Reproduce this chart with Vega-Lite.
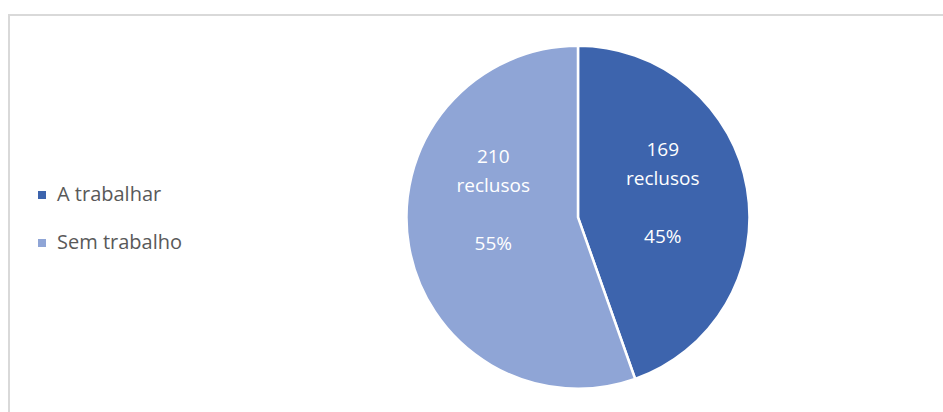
{
  "$schema": "https://vega.github.io/schema/vega-lite/v6.json",
  "usermeta": {"embedOptions": {"actions": false}},
  "autosize": {"type": "none"},
  "padding": {"left": 9, "top": 15, "right": 0, "bottom": 0},
  "width": 934,
  "height": 397,
  "background": "#ffffff",
  "config": {
    "view": {"stroke": null},
    "font": "Open Sans"
  },
  "data": {
    "values": [
      {"categoria": "A trabalhar", "reclusos": 169, "rotulo": "169\nreclusos", "pct": "45%"},
      {"categoria": "Sem trabalho", "reclusos": 210, "rotulo": "210\nreclusos", "pct": "55%"}
    ]
  },
  "layer": [
    {
      "data": {"values": [{"moldura": 1}]},
      "mark": {
        "type": "rect",
        "x": 0,
        "y": 0,
        "x2": {"expr": "width + 20"},
        "y2": {"expr": "height + 20"},
        "fill": null,
        "stroke": "#d9d9d9",
        "strokeWidth": 2
      },
      "encoding": {}
    },
    {
      "mark": {
        "type": "arc",
        "outerRadius": 171.5,
        "stroke": "#ffffff",
        "strokeWidth": 2.5,
        "x": {"expr": "width*0.6092"},
        "y": {"expr": "height*0.5096"}
      },
      "encoding": {
        "theta": {"field": "reclusos", "type": "quantitative", "stack": true},
        "order": {"field": "categoria", "sort": "ascending"},
        "color": {
          "field": "categoria",
          "type": "nominal",
          "scale": {"domain": ["A trabalhar", "Sem trabalho"], "range": ["#3d64ad", "#8fa5d6"]},
          "legend": {
            "title": null,
            "orient": "none",
            "legendX": 23,
            "legendY": 170,
            "symbolType": "square",
            "symbolSize": 64,
            "symbolStrokeWidth": 0,
            "labelFontSize": 20,
            "labelFont": "Open Sans",
            "labelColor": "#595959",
            "labelOffset": 5,
            "rowPadding": 28,
            "padding": 0
          }
        }
      }
    },
    {
      "mark": {
        "type": "text", "radius": 86, "dy": -53,
        "x": {"expr": "width*0.6092"}, "y": {"expr": "height*0.5096"},
        "fontSize": 19, "font": "Open Sans", "color": "#ffffff",
        "lineBreak": "\n", "lineHeight": 29, "align": "center", "baseline": "middle"
      },
      "encoding": {
        "theta": {"field": "reclusos", "type": "quantitative", "stack": true},
        "order": {"field": "categoria", "sort": "ascending"},
        "text": {"condition": {"test": "datum.categoria === 'A trabalhar'", "field": "rotulo"}, "value": ""}
      }
    },
    {
      "mark": {
        "type": "text", "radius": 86, "dy": 34,
        "x": {"expr": "width*0.6092"}, "y": {"expr": "height*0.5096"},
        "fontSize": 19, "font": "Open Sans", "color": "#ffffff",
        "align": "center", "baseline": "middle"
      },
      "encoding": {
        "theta": {"field": "reclusos", "type": "quantitative", "stack": true},
        "order": {"field": "categoria", "sort": "ascending"},
        "text": {"condition": {"test": "datum.categoria === 'A trabalhar'", "field": "pct"}, "value": ""}
      }
    },
    {
      "mark": {
        "type": "text", "radius": 86, "dy": -75,
        "x": {"expr": "width*0.6092"}, "y": {"expr": "height*0.5096"},
        "fontSize": 19, "font": "Open Sans", "color": "#ffffff",
        "lineBreak": "\n", "lineHeight": 29, "align": "center", "baseline": "middle"
      },
      "encoding": {
        "theta": {"field": "reclusos", "type": "quantitative", "stack": true},
        "order": {"field": "categoria", "sort": "ascending"},
        "text": {"condition": {"test": "datum.categoria === 'Sem trabalho'", "field": "rotulo"}, "value": ""}
      }
    },
    {
      "mark": {
        "type": "text", "radius": 86, "dy": 12,
        "x": {"expr": "width*0.6092"}, "y": {"expr": "height*0.5096"},
        "fontSize": 19, "font": "Open Sans", "color": "#ffffff",
        "align": "center", "baseline": "middle"
      },
      "encoding": {
        "theta": {"field": "reclusos", "type": "quantitative", "stack": true},
        "order": {"field": "categoria", "sort": "ascending"},
        "text": {"condition": {"test": "datum.categoria === 'Sem trabalho'", "field": "pct"}, "value": ""}
      }
    }
  ]
}
